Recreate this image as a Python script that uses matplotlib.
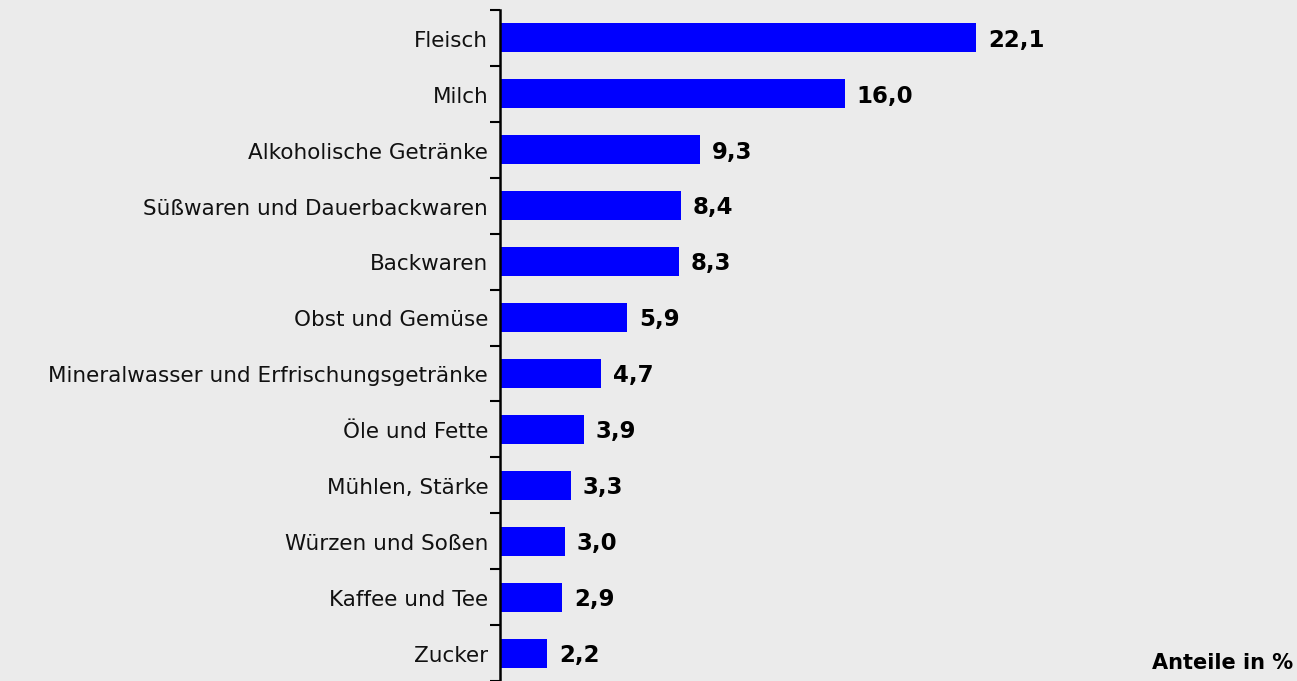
import matplotlib
matplotlib.use('Agg')
import matplotlib.pyplot as plt
import numpy as np

# Data
categories = ['Fleisch', 'Milch', 'Alkoholische Getränke', 'Süßwaren und Dauerbackwaren',
              'Backwaren', 'Obst und Gemüse', 'Mineralwasser und Erfrischungsgetränke',
              'Öle und Fette', 'Mühlen, Stärke', 'Würzen und Soßen', 'Kaffee und Tee', 'Zucker']
shares = [22.1, 16.0, 9.3, 8.4, 8.3, 5.9, 4.7, 3.9, 3.3, 3.0, 2.9, 2.2]

bg = '#ebebeb'
W, H = 1297, 681
fig = plt.figure(figsize=(W / 100, H / 100), dpi=100, facecolor=bg)
ax = fig.add_axes([500 / W, 0, (W - 500) / W, (H - 10) / H], facecolor=bg)

y = np.arange(len(categories))
ax.barh(y, shares, height=0.52, color='#0000ff')

for yi, v in zip(y, shares):
    ax.text(v + 0.55, yi + 0.04, f'{v:.1f}'.replace('.', ','), va='center', ha='left',
            fontsize=16.5, fontweight='bold', color='black')

ax.set_xlim(0, (W - 500) / 21.54)
ax.set_ylim(-0.5 + (H - 10) / 56.3, -0.5)

# category labels placed at centers, ticks at boundaries
ax.set_yticks(np.arange(len(categories) + 1) - 0.5)
ax.set_yticklabels([])
ax.tick_params(axis='y', length=7, width=1.5, direction='out')
for yi, c in zip(y, categories):
    ax.text(-0.55, yi + 0.05, c, ha='right', va='center', fontsize=15.5, color='#111111')

ax.set_xticks([])
for s in ['top', 'right', 'bottom']:
    ax.spines[s].set_visible(False)
ax.spines['left'].set_linewidth(1.8)

fig.text(1293 / W, 1 - 663 / H, 'Anteile in %', ha='right', va='center',
         fontsize=15, fontweight='bold')

fig.savefig('out.png', dpi=100, facecolor=bg)
